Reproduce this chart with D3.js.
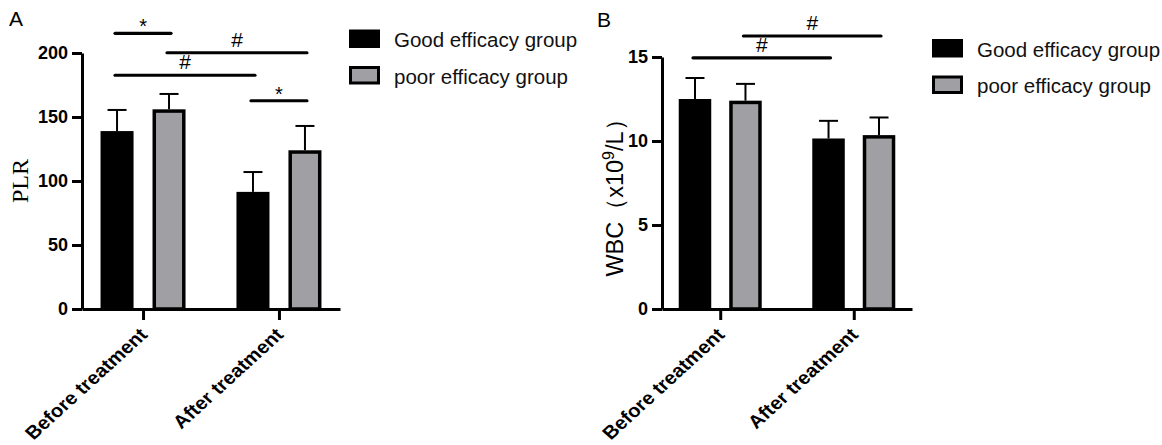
<!DOCTYPE html>
<html lang="en">
<head>
<meta charset="utf-8">
<title>PLR and WBC by efficacy group</title>
<script src="https://cdn.jsdelivr.net/npm/d3@7"></script>
<style>
  body { margin: 0; background: #fff; }
  svg { display: block; font-family: "Liberation Sans", Arial, sans-serif; }
  .axis path, .axis line { stroke: #000; stroke-width: 3; }
  .axis text { font-size: 18px; font-weight: bold; fill: #000; font-family: "Liberation Sans", Arial, sans-serif; }
</style>
</head>
<body>
<svg id="chart" width="1162" height="445"></svg>
<script>
// categories and groups
var categories = ["Before treatment", "After treatment"];
var groups = ["Good efficacy group", "poor efficacy group"];
var groupColors = ["#000000", "#a0a0a4"];

// panel A - PLR (mean, sd)
var plrGood = [139, 91.5];
var plrPoor = [156, 124];
var plrGoodSD = [16.5, 15.5];
var plrPoorSD = [12, 19];
var plrTicks = [0, 50, 100, 150, 200];
// significance bars: [category, group] -> [category, group] at height y
var plrSig = [
  { from: [0, 0], to: [0, 1], y: 215.4, label: "*" },
  { from: [0, 1], to: [1, 1], y: 200.2, label: "#" },
  { from: [0, 0], to: [1, 0], y: 182.6, label: "#" },
  { from: [1, 0], to: [1, 1], y: 162.7, label: "*" }
];

// panel B - WBC (mean, sd)
var wbcGood = [12.5, 10.15];
var wbcPoor = [12.4, 10.35];
var wbcGoodSD = [1.25, 1.05];
var wbcPoorSD = [1.0, 1.05];
var wbcTicks = [0, 5, 10, 15];
var wbcSig = [
  { from: [0, 1], to: [1, 1], y: 16.25, label: "#" },
  { from: [0, 0], to: [1, 0], y: 14.95, label: "#" }
];

var svg = d3.select("#chart");

function drawPanel(o) {
  var g = svg.append("g");

  var y = d3.scaleLinear().domain([0, o.yMax]).range([o.y0, o.yTop]);
  var x = d3.scalePoint().domain(categories).range([o.left, o.right]).padding(o.pad);
  var sub = d3.scaleBand().domain(groups).range([-o.half, o.half]).paddingInner(o.inner);
  var bw = sub.bandwidth();

  var means = [o.good, o.poor];
  var sds = [o.goodSD, o.poorSD];

  var rows = [];
  categories.forEach(function(c, i) {
    groups.forEach(function(gr, j) {
      rows.push({ cat: c, group: gr, j: j, mean: means[j][i], sd: sds[j][i] });
    });
  });

  function cx(d) { return x(d.cat) + sub(d.group) + bw / 2; }

  // bars
  var sw = 3.5;
  g.selectAll("rect.bar").data(rows).enter().append("rect")
    .attr("class", "bar")
    .attr("x", function(d) { return x(d.cat) + sub(d.group) + (d.j ? sw / 2 : 0); })
    .attr("y", function(d) { return y(d.mean) + (d.j ? sw / 2 : 0); })
    .attr("width", function(d) { return d.j ? bw - sw : bw; })
    .attr("height", function(d) { return o.y0 - y(d.mean) - (d.j ? sw / 2 : 0); })
    .attr("fill", function(d) { return groupColors[d.j]; })
    .attr("stroke", function(d) { return d.j ? "#000" : "none"; })
    .attr("stroke-width", sw);

  // error bars (upper only)
  g.selectAll("line.err").data(rows).enter().append("line")
    .attr("x1", cx).attr("x2", cx)
    .attr("y1", function(d) { return y(d.mean); })
    .attr("y2", function(d) { return y(d.mean + d.sd); })
    .attr("stroke", "#000").attr("stroke-width", 2);
  g.selectAll("line.cap").data(rows).enter().append("line")
    .attr("x1", function(d) { return cx(d) - 9.5; })
    .attr("x2", function(d) { return cx(d) + 9.5; })
    .attr("y1", function(d) { return y(d.mean + d.sd); })
    .attr("y2", function(d) { return y(d.mean + d.sd); })
    .attr("stroke", "#000").attr("stroke-width", 2);

  // axes
  g.append("g").attr("class", "axis")
    .attr("transform", "translate(" + o.left + ",0)")
    .call(d3.axisLeft(y).tickValues(o.ticks).tickSize(10).tickSizeOuter(0).tickPadding(4));

  var xa = g.append("g").attr("class", "axis")
    .attr("transform", "translate(0," + o.y0 + ")")
    .call(d3.axisBottom(x).tickSize(11).tickSizeOuter(0));
  xa.selectAll("text")
    .attr("x", 0).attr("y", 0).attr("dy", 0)
    .attr("transform", "translate(5,27) scale(1.1,1) rotate(-45)")
    .style("text-anchor", "end")
    .style("font-size", "18.5px");

  // significance
  function px(p) { return x(categories[p[0]]) + sub(groups[p[1]]) + bw / 2; }
  g.selectAll("line.sig").data(o.sig).enter().append("line")
    .attr("x1", function(d) { return px(d.from) - 2; })
    .attr("x2", function(d) { return px(d.to) + 2; })
    .attr("y1", function(d) { return y(d.y); })
    .attr("y2", function(d) { return y(d.y); })
    .attr("stroke", "#000").attr("stroke-width", 3.2).attr("stroke-linecap", "round");
  g.selectAll("text.sig").data(o.sig).enter().append("text")
    .attr("x", function(d) { return (px(d.from) + px(d.to)) / 2; })
    .attr("y", function(d) { return y(d.y) - (d.label === "#" ? 6 : 0); })
    .attr("text-anchor", "middle")
    .style("font-size", function(d) { return d.label === "#" ? "21px" : "20px"; })
    .text(function(d) { return d.label; });

  // panel letter
  g.append("text").attr("x", o.letterX).attr("y", o.letterY)
    .style("font-size", "21px").text(o.letter);

  // legend
  var leg = g.selectAll("g.leg").data(groups).enter().append("g")
    .attr("transform", function(d, i) { return "translate(" + o.legX + "," + (o.legY + i * 36.5) + ")"; });
  leg.append("rect")
    .attr("x", function(d, i) { return i ? 1.5 : 0; })
    .attr("y", function(d, i) { return i ? 1.5 : 0; })
    .attr("width", function(d, i) { return i ? 28 : 31; })
    .attr("height", function(d, i) { return i ? 15.5 : 18.5; })
    .attr("fill", function(d, i) { return groupColors[i]; })
    .attr("stroke", function(d, i) { return i ? "#000" : "none"; })
    .attr("stroke-width", 3);
  leg.append("text").attr("x", 45).attr("y", 17.5)
    .style("font-size", "20.5px").attr("fill", "#111")
    .text(function(d) { return d; });

  return g;
}

var gA = drawPanel({
  left: 82, right: 340, pad: 0.449, half: 42.5, inner: 0.365,
  y0: 309, yTop: 53, yMax: 200, ticks: plrTicks,
  good: plrGood, poor: plrPoor, goodSD: plrGoodSD, poorSD: plrPoorSD,
  sig: plrSig, letter: "A", letterX: 9, letterY: 26, legX: 349, legY: 29.5
});
gA.append("text")
  .attr("transform", "translate(28,181) rotate(-90)")
  .attr("text-anchor", "middle")
  .style("font-family", "'Liberation Serif', 'Times New Roman', serif")
  .style("font-size", "24px")
  .text("PLR");

var gB = drawPanel({
  left: 662, right: 912, pad: 0.436, half: 41.5, inner: 0.356,
  y0: 309, yTop: 57, yMax: 15, ticks: wbcTicks,
  good: wbcGood, poor: wbcPoor, goodSD: wbcGoodSD, poorSD: wbcPoorSD,
  sig: wbcSig, letter: "B", letterX: 597, letterY: 27, legX: 932, legY: 39
});
var yl = gB.append("text")
  .attr("transform", "translate(623,192) rotate(-90)")
  .attr("text-anchor", "middle")
  .style("font-size", "23.5px");
yl.append("tspan").text("WBC（x10");
yl.append("tspan").attr("dy", -9).style("font-size", "16px").text("9");
yl.append("tspan").attr("dy", 9).text("/L）");
</script>
</body>
</html>
